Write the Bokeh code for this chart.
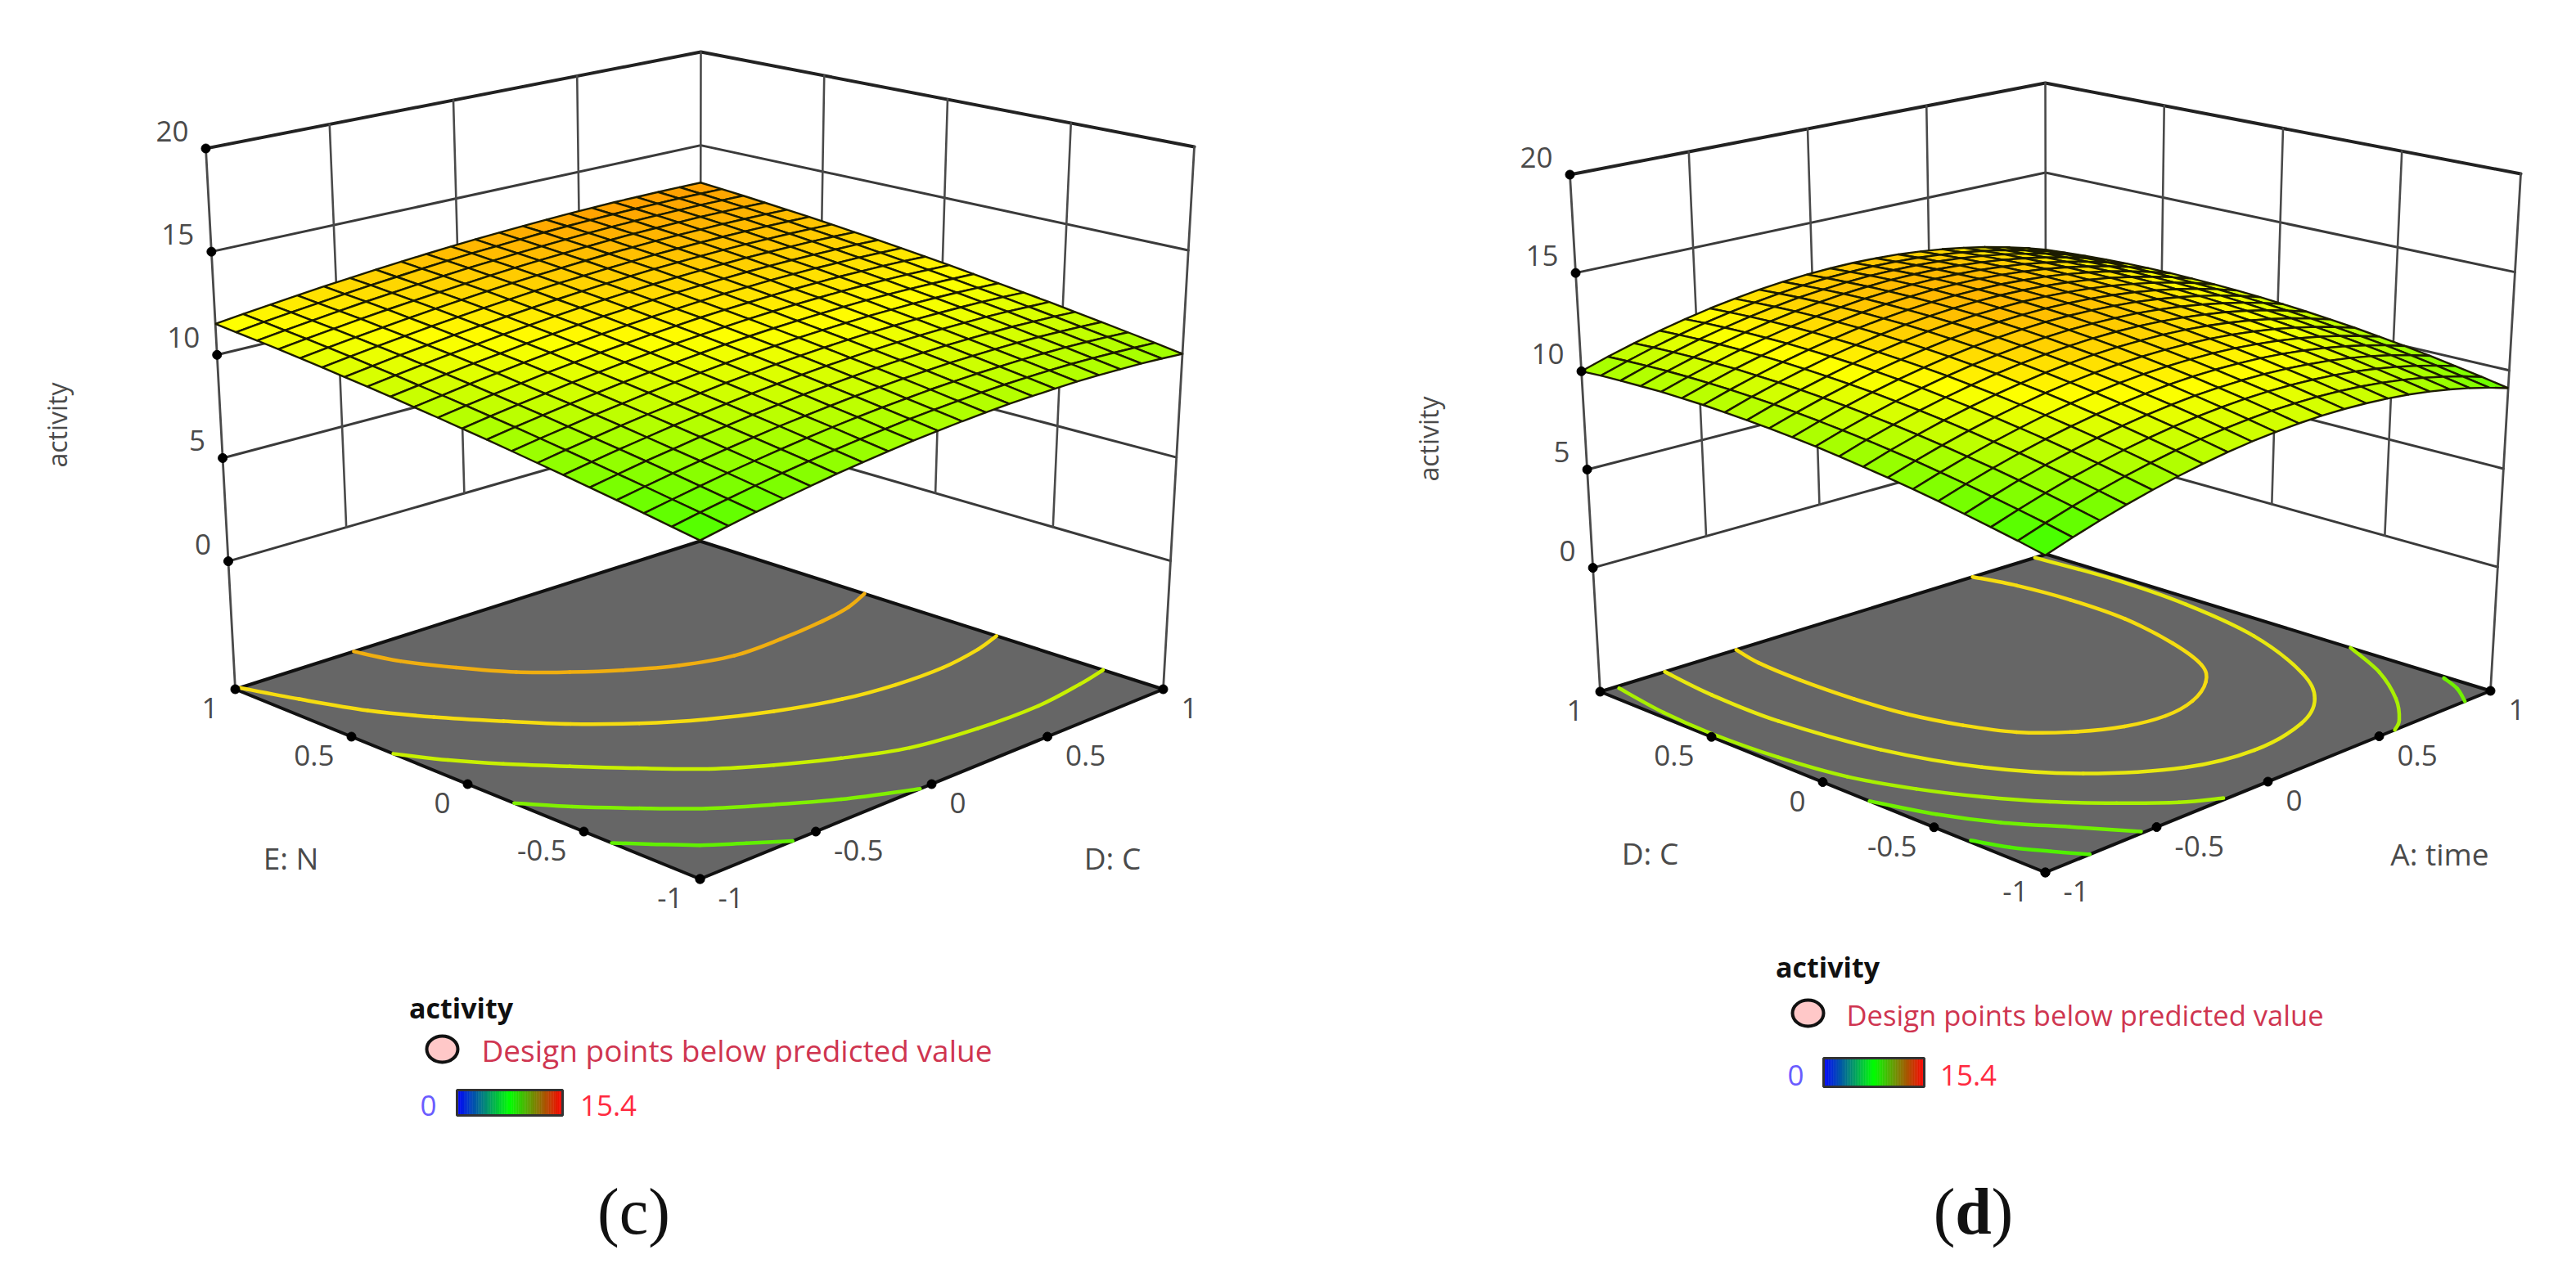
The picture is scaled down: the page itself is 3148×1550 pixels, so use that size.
import numpy as np
from bokeh.plotting import figure
from bokeh.core.properties import value
from bokeh.embed import file_html
from bokeh.resources import INLINE

Z_TICKS = [0, 5, 10, 15, 20]
XY_TICKS = [-1, -0.5, 0, 0.5, 1]
XY_LABELS = ["-1", "-0.5", "0", "0.5", "1"]

# activity; rows: E: N from -1 to 1 by 0.1, columns: D: C from -1 to 1 by 0.1
SURF_C = [
 [8.80,9.02,9.23,9.41,9.58,9.74,9.87,9.99,10.10,10.18,10.25,10.30,10.34,10.35,10.35,10.34,10.30,10.25,10.19,10.10,10.00],
 [8.99,9.21,9.41,9.60,9.77,9.92,10.05,10.17,10.27,10.36,10.43,10.48,10.52,10.54,10.54,10.53,10.50,10.45,10.38,10.30,10.21],
 [9.18,9.39,9.59,9.78,9.94,10.09,10.23,10.35,10.45,10.53,10.60,10.66,10.69,10.72,10.72,10.71,10.68,10.64,10.58,10.50,10.41],
 [9.36,9.57,9.77,9.95,10.11,10.26,10.40,10.51,10.61,10.70,10.77,10.83,10.86,10.89,10.89,10.88,10.86,10.82,10.76,10.69,10.60],
 [9.53,9.74,9.94,10.11,10.28,10.42,10.56,10.67,10.78,10.86,10.93,10.99,11.03,11.05,11.06,11.05,11.03,11.00,10.94,10.88,10.79],
 [9.70,9.91,10.10,10.27,10.44,10.58,10.71,10.83,10.93,11.02,11.09,11.14,11.19,11.21,11.22,11.22,11.20,11.17,11.12,11.05,10.98],
 [9.86,10.07,10.25,10.43,10.59,10.73,10.86,10.98,11.08,11.17,11.24,11.30,11.34,11.37,11.38,11.38,11.36,11.33,11.29,11.23,11.15],
 [10.02,10.22,10.40,10.58,10.73,10.88,11.01,11.12,11.22,11.31,11.38,11.44,11.48,11.51,11.53,11.53,11.52,11.49,11.45,11.39,11.32],
 [10.17,10.37,10.55,10.72,10.87,11.02,11.14,11.26,11.36,11.45,11.52,11.58,11.62,11.65,11.67,11.68,11.67,11.64,11.60,11.55,11.49],
 [10.31,10.51,10.69,10.85,11.01,11.15,11.28,11.39,11.49,11.58,11.65,11.71,11.76,11.79,11.81,11.82,11.81,11.79,11.76,11.71,11.65],
 [10.45,10.64,10.82,10.98,11.14,11.27,11.40,11.51,11.61,11.70,11.78,11.84,11.88,11.92,11.94,11.95,11.95,11.93,11.90,11.86,11.80],
 [10.58,10.77,10.95,11.11,11.26,11.40,11.52,11.63,11.73,11.82,11.89,11.96,12.01,12.04,12.07,12.08,12.08,12.06,12.04,12.00,11.95],
 [10.71,10.89,11.07,11.23,11.37,11.51,11.63,11.75,11.85,11.93,12.01,12.07,12.12,12.16,12.19,12.20,12.20,12.19,12.17,12.14,12.09],
 [10.83,11.01,11.18,11.34,11.48,11.62,11.74,11.85,11.95,12.04,12.12,12.18,12.23,12.27,12.30,12.32,12.32,12.31,12.30,12.27,12.22],
 [10.94,11.12,11.29,11.44,11.59,11.72,11.84,11.95,12.05,12.14,12.22,12.28,12.34,12.38,12.41,12.43,12.44,12.43,12.42,12.39,12.35],
 [11.05,11.23,11.39,11.54,11.69,11.82,11.94,12.05,12.15,12.24,12.31,12.38,12.43,12.48,12.51,12.53,12.54,12.54,12.53,12.51,12.48],
 [11.15,11.33,11.49,11.64,11.78,11.91,12.03,12.14,12.24,12.33,12.40,12.47,12.53,12.57,12.61,12.63,12.64,12.65,12.64,12.62,12.59],
 [11.25,11.42,11.58,11.73,11.87,11.99,12.11,12.22,12.32,12.41,12.49,12.55,12.61,12.66,12.70,12.72,12.74,12.75,12.74,12.73,12.70],
 [11.34,11.50,11.66,11.81,11.95,12.07,12.19,12.30,12.40,12.48,12.56,12.63,12.69,12.74,12.78,12.81,12.83,12.84,12.84,12.83,12.81],
 [11.42,11.59,11.74,11.88,12.02,12.15,12.26,12.37,12.47,12.56,12.63,12.70,12.77,12.82,12.86,12.89,12.91,12.92,12.93,12.92,12.91],
 [11.50,11.66,11.81,11.95,12.09,12.21,12.33,12.43,12.53,12.62,12.70,12.77,12.83,12.88,12.93,12.96,12.99,13.00,13.01,13.01,13.00],
]
# activity; rows: D: C from -1 to 1 by 0.1, columns: A: time from -1 to 1 by 0.1
SURF_D = [
 [8.50,8.91,9.28,9.61,9.90,10.15,10.36,10.53,10.66,10.75,10.80,10.81,10.78,10.71,10.60,10.45,10.26,10.03,9.76,9.45,9.10],
 [8.75,9.16,9.53,9.86,10.15,10.40,10.61,10.78,10.91,11.00,11.05,11.06,11.03,10.96,10.85,10.70,10.51,10.28,10.01,9.70,9.35],
 [8.97,9.38,9.76,10.09,10.38,10.63,10.84,11.01,11.14,11.23,11.28,11.29,11.26,11.19,11.08,10.93,10.74,10.51,10.24,9.93,9.58],
 [9.18,9.59,9.97,10.30,10.59,10.84,11.05,11.22,11.35,11.44,11.49,11.50,11.47,11.40,11.29,11.15,10.96,10.73,10.46,10.15,9.80],
 [9.38,9.79,10.16,10.49,10.78,11.03,11.24,11.41,11.54,11.64,11.69,11.70,11.67,11.60,11.49,11.34,11.15,10.92,10.65,10.35,10.00],
 [9.55,9.96,10.33,10.66,10.95,11.21,11.42,11.59,11.72,11.81,11.86,11.87,11.85,11.78,11.67,11.52,11.33,11.10,10.83,10.52,10.18],
 [9.71,10.12,10.49,10.82,11.11,11.36,11.58,11.75,11.88,11.97,12.02,12.03,12.00,11.94,11.83,11.68,11.49,11.26,10.99,10.68,10.34],
 [9.84,10.26,10.63,10.96,11.25,11.50,11.71,11.89,12.02,12.11,12.16,12.17,12.15,12.08,11.97,11.82,11.63,11.40,11.14,10.83,10.48],
 [9.96,10.38,10.75,11.08,11.37,11.62,11.84,12.01,12.14,12.23,12.28,12.30,12.27,12.20,12.09,11.94,11.76,11.53,11.26,10.95,10.60],
 [10.07,10.48,10.85,11.18,11.48,11.73,11.94,12.11,12.24,12.34,12.39,12.40,12.37,12.31,12.20,12.05,11.86,11.63,11.37,11.06,10.71],
 [10.15,10.56,10.94,11.27,11.56,11.81,12.03,12.20,12.33,12.42,12.48,12.49,12.46,12.39,12.29,12.14,11.95,11.72,11.46,11.15,10.80],
 [10.22,10.63,11.00,11.33,11.63,11.88,12.09,12.27,12.40,12.49,12.54,12.56,12.53,12.46,12.35,12.21,12.02,11.79,11.53,11.22,10.87],
 [10.26,10.68,11.05,11.38,11.68,11.93,12.14,12.32,12.45,12.54,12.59,12.61,12.58,12.51,12.41,12.26,12.07,11.85,11.58,11.27,10.92],
 [10.29,10.71,11.08,11.41,11.71,11.96,12.17,12.35,12.48,12.57,12.63,12.64,12.61,12.55,12.44,12.29,12.11,11.88,11.61,11.31,10.96],
 [10.31,10.72,11.09,11.43,11.72,11.97,12.19,12.36,12.49,12.59,12.64,12.65,12.63,12.56,12.46,12.31,12.12,11.90,11.63,11.32,10.98],
 [10.30,10.71,11.09,11.42,11.72,11.97,12.18,12.36,12.49,12.58,12.64,12.65,12.63,12.56,12.45,12.31,12.12,11.89,11.63,11.32,10.98],
 [10.28,10.69,11.06,11.40,11.69,11.95,12.16,12.33,12.47,12.56,12.62,12.63,12.60,12.54,12.43,12.29,12.10,11.87,11.61,11.30,10.96],
 [10.23,10.65,11.02,11.36,11.65,11.91,12.12,12.29,12.43,12.52,12.58,12.59,12.57,12.50,12.39,12.25,12.06,11.84,11.57,11.26,10.92],
 [10.17,10.59,10.96,11.30,11.59,11.85,12.06,12.24,12.37,12.46,12.52,12.53,12.51,12.44,12.34,12.19,12.01,11.78,11.52,11.21,10.86],
 [10.10,10.51,10.89,11.22,11.52,11.77,11.98,12.16,12.29,12.39,12.44,12.46,12.43,12.37,12.26,12.12,11.93,11.71,11.44,11.14,10.79],
 [10.00,10.42,10.79,11.13,11.42,11.68,11.89,12.07,12.20,12.30,12.35,12.37,12.34,12.28,12.17,12.03,11.84,11.62,11.35,11.05,10.70],
]

# contour lines on the floor: (colour, [(x factor, y factor), ...])
CONT_C = [
 ("#f0ae10", [(-.49,1),(-.44,.85),(-.35,.70),(-.24,.55),(-.12,.44),(.01,.34),(.16,.25),(.34,.19),(.54,.19),(.74,.21),(.88,.24),(1,.29)]),
 ("#f5dc10", [(-.98,1),(-.905,.82),(-.81,.62),(-.695,.45),(-.56,.285),(-.425,.13),(-.27,-.01),(-.10,-.13),(.09,-.23),(.305,-.31),(.50,-.345),(.70,-.35),(.88,-.32),(1,-.28)]),
 ("#c8f000", [(-1,.32),(-.91,.175),(-.805,.04),(-.67,-.11),(-.53,-.265),(-.38,-.42),(-.22,-.54),(-.04,-.65),(.16,-.745),(.41,-.79),(.66,-.80),(.87,-.77),(1,-.74)]),
 ("#80f000", [(-1,-.20),(-.89,-.34),(-.75,-.49),(-.605,-.635),(-.44,-.76),(-.27,-.88),(-.05,-1)]),
 ("#60f000", [(-1,-.62),(-.92,-.71),(-.82,-.82),(-.71,-.91),(-.60,-1)]),
]
CONT_D = [
 ("#f5dc10", [(.67,1),(.71,.84),(.73,.62),(.72,.365),(.66,.09),(.58,-.12),(.48,-.24),(.33,-.33),(.18,-.36),(.025,-.33),(-.13,-.24),(-.25,-.12),(-.33,.04),(-.39,.23),(-.42,.44),(-.43,.675),(-.42,.87),(-.39,1)]),
 ("#e8e810", [(.95,1),(.97,.67),(.95,.32),(.88,-.055),(.74,-.41),(.60,-.61),(.42,-.73),(.16,-.78),(-.09,-.72),(-.35,-.52),(-.54,-.255),(-.67,.07),(-.74,.46),(-.74,.76),(-.71,1)]),
 ("#a8f000", [(-.93,.985),(-.97,.745),(-.98,.52),(-.96,.24),(-.91,-.02),(-.82,-.24),(-.715,-.43),(-.59,-.61),(-.45,-.77),(-.31,-.91),(-.19,-.99)]),
 ("#a8f000", [(1,-.37),(.90,-.60),(.765,-.81),(.64,-.95),(.57,-1)]),
 ("#70f000", [(-1,-.21),(-.92,-.43),(-.82,-.62),(-.69,-.80),(-.56,-.99)]),
 ("#70f000", [(.99,-.80),(.95,-.90),(.885,-1)]),
 ("#50f000", [(-.99,-.655),(-.94,-.78),(-.87,-.895),(-.80,-1)]),
]

p = figure(width=3132, height=1534, x_range=(0, 3132), y_range=(1534, 0),
           output_backend="svg", toolbar_location=None, min_border=0)
p.axis.visible = False
p.grid.visible = False
p.outline_line_color = None
p.background_fill_color = "white"

STOPS = np.array([0, 3.85, 7.7, 11.55, 15.4])
R = [0, 0, 0, 255, 255]; G = [0, 255, 255, 255, 0]; B = [255, 255, 0, 0, 0]
def color(z):
    return "#%02x%02x%02x" % (int(np.interp(z, STOPS, R)), int(np.interp(z, STOPS, G)), int(np.interp(z, STOPS, B)))

def panel(cfg, surf, conts):
    zf = cfg["zf"]; span = 20 - zf
    F, Fz = np.array(cfg["F"], float), np.array(cfg["Ft"], float)
    Rr, Rz = np.array(cfg["R"], float), np.array(cfg["Rt"], float)
    L, Lz = np.array(cfg["L"], float), np.array(cfg["Lt"], float)
    Bk, Bz = np.array(cfg["B"], float), np.array(cfg["Bt"], float)
    def bil(s, t, a, b, c, d):
        return (1-s)*(1-t)*a + s*(1-t)*b + s*t*c + (1-s)*t*d
    def box(u, v, z):
        s, t = (u+1)/2, (v+1)/2
        f = bil(s, t, F, Rr, Bk, L); top = bil(s, t, Fz, Rz, Bz, Lz)
        return f + (top-f)*(z-zf)/span
    z0 = 10.0
    quad = [box(-1,-1,z0), box(1,-1,z0), box(1,1,z0), box(-1,1,z0)]
    sq = [(0,0),(1,0),(1,1),(0,1)]
    A = []; b = []
    for (s,t),(x,y) in zip(sq, quad):
        A.append([s,t,1,0,0,0,-s*x,-t*x]); b.append(x)
        A.append([0,0,0,s,t,1,-s*y,-t*y]); b.append(y)
    h = np.linalg.solve(np.array(A), np.array(b))
    vF, vR, vB, vL = (Fz-F)/span, (Rz-Rr)/span, (Bz-Bk)/span, (Lz-L)/span
    def surfpt(i, j, z):
        s, t = j/20, i/20
        w = h[6]*s+h[7]*t+1
        pt = np.array([(h[0]*s+h[1]*t+h[2])/w, (h[3]*s+h[4]*t+h[5])/w])
        return pt + (z-z0)*bil(s, t, vF, vR, vB, vL)
    def seg(pts, w, c):
        p.line([q[0] for q in pts], [q[1] for q in pts], line_width=w, line_color=c, line_cap="round")
    for z in Z_TICKS:
        w = 4 if z == 20 else 3
        c = "#222222" if z == 20 else "#3a3a3a"
        seg([box(-1,1,z), box(1,1,z), box(1,-1,z)], w, c)
    for t in XY_TICKS[1:-1]:
        seg([box(t,1,0), box(t,1,20)], 2.6, "#4a4a4a")
        seg([box(1,t,0), box(1,t,20)], 2.6, "#4a4a4a")
    seg([box(1,1,0), box(1,1,20)], 2.6, "#4a4a4a")
    seg([box(-1,1,zf), box(-1,1,20)], 2.8, "#4a4a4a")
    seg([box(1,-1,zf), box(1,-1,20)], 2.8, "#4a4a4a")
    corners = [box(-1,-1,zf), box(1,-1,zf), box(1,1,zf), box(-1,1,zf)]
    p.patch([q[0] for q in corners], [q[1] for q in corners], fill_color="#666666",
            line_color="#111111", line_width=4)
    for col, pts in conts:
        P = [box(a[0], a[1], zf) for a in pts]
        P = [P[0]] + P + [P[-1]]
        x0,y0,x1,y1,cx0,cy0,cx1,cy1 = [],[],[],[],[],[],[],[]
        for k in range(1, len(P)-2):
            c0 = P[k] + (P[k+1]-P[k-1])/6
            c1 = P[k+1] - (P[k+2]-P[k])/6
            x0.append(P[k][0]); y0.append(P[k][1]); x1.append(P[k+1][0]); y1.append(P[k+1][1])
            cx0.append(c0[0]); cy0.append(c0[1]); cx1.append(c1[0]); cy1.append(c1[1])
        p.bezier(x0=x0, y0=y0, x1=x1, y1=y1, cx0=cx0, cy0=cy0, cx1=cx1, cy1=cy1,
                 line_color=col, line_width=4.5, line_cap="round")
    xs, ys, fc = [], [], []
    order = sorted([(i,j) for i in range(20) for j in range(20)], key=lambda ij: -(ij[0]+ij[1]))
    for i, j in order:
        zz = [surf[i][j], surf[i][j+1], surf[i+1][j+1], surf[i+1][j]]
        q = [surfpt(i,j,zz[0]), surfpt(i,j+1,zz[1]), surfpt(i+1,j+1,zz[2]), surfpt(i+1,j,zz[3])]
        xs.append([a[0] for a in q]); ys.append([a[1] for a in q]); fc.append(color(np.mean(zz)))
    p.patches(xs, ys, fill_color=fc, line_color="#1c1c00", line_width=2.4)
    dots = [box(-1,1,z) for z in Z_TICKS]
    dots += [box(-1,t,zf) for t in XY_TICKS] + [box(t,-1,zf) for t in XY_TICKS]
    p.scatter([d[0] for d in dots], [d[1] for d in dots], size=11, color="black")
    FONT = value("Open Sans")
    def txt(x, y, s, size, col="#4a4a4a", align="center", font=FONT, style="normal", angle=0):
        p.text([x], [y], text=[s], text_font=font, text_font_size=f"{size}px", text_color=col,
               text_align=align, text_baseline="middle", text_font_style=style, angle=angle)
    for z in Z_TICKS:
        q = box(-1,1,z)
        txt(q[0]-21, q[1]-21, str(z), 35, align="right")
    for t, lab in zip(XY_TICKS, XY_LABELS):
        q = box(-1,t,zf); txt(q[0]-21, q[1]+23, lab, 35, align="right")
        q = box(t,-1,zf); txt(q[0]+22, q[1]+23, lab, 35, align="left")
    txt(*cfg["ztitle"], "activity", 32, angle=np.pi/2)
    txt(*cfg["ll"], cfg["lname"], 37)
    txt(*cfg["rl"], cfg["rname"], 37)
    txt(*cfg["lt"], "activity", 34, col="#111111", style="bold")
    ex, ey = cfg["el"]
    p.ellipse([ex], [ey], width=38, height=32, fill_color="#ffc8c8", line_color="#111111", line_width=4)
    txt(cfg["lx"], cfg["ly"], "Design points below predicted value", cfg["ls2"], col="#cf3550", align="left")
    bx0, bx1, by0, by1 = cfg["bar"]
    vals = np.linspace(0, 15.4, 61)
    ed = bx0 + vals/15.4*(bx1-bx0)
    mid = (vals[:-1]+vals[1:])/2
    cols = ["#%02x%02x%02x" % (int(np.interp(m,[0,7.7,15.4],[0,0,255])), int(np.interp(m,[0,7.7,15.4],[0,255,0])), int(np.interp(m,[0,7.7,15.4],[255,0,0]))) for m in mid]
    p.quad(left=ed[:-1], right=ed[1:], top=by0, bottom=by1, fill_color=cols, line_color=cols, line_width=0.5)
    p.quad(left=[bx0], right=[bx1], top=[by0], bottom=[by1], fill_alpha=0, line_color="#333333", line_width=3)
    txt(*cfg["l0"], "0", 35, col="#6a5cff")
    txt(*cfg["l1"], "15.4", 35, col="#ff2a40")

CFG_C = dict(zf=-6.2, F=(855,1074), R=(1421,842), L=(287,842), B=(855,661),
             Ft=(855,351), Rt=(1459,179), Lt=(251,181), Bt=(856,63),
             ztitle=(69,519), ll=(355,1048), rl=(1359,1048), lname="E: N", rname="D: C",
             lt=(563,1231), el=(540,1282), lx=588, ly=1283, ls2=37,
             bar=(558,687,1332,1363), l0=(523,1351), l1=(743,1351))
CFG_D = dict(zf=-6.3, F=(2499,1066), R=(3043,844), L=(1955,845), B=(2500,677),
             Ft=(2499,377), Rt=(3080,212), Lt=(1918,213), Bt=(2499,101),
             ztitle=(1745,536), ll=(2016,1042), rl=(2981,1043), lname="D: C", rname="A: time",
             lt=(2233,1181), el=(2209,1238), lx=2256, ly=1240, ls2=34.6,
             bar=(2228,2351,1293,1328), l0=(2194,1314), l1=(2405,1314))
panel(CFG_C, SURF_C, CONT_C)
panel(CFG_D, SURF_D, CONT_D)

SERIF = value("Liberation Serif")
p.text([774], [1480], text=["(c)"], text_font=SERIF, text_font_size="80px", text_color="#111111", text_align="center", text_baseline="middle")
p.text([2411], [1480], text=["("], text_font=SERIF, text_font_size="80px", text_color="#111111", text_align="right", text_baseline="middle", x_offset=-22)
p.text([2411], [1480], text=["d"], text_font=SERIF, text_font_size="80px", text_font_style="bold", text_color="#111111", text_align="center", text_baseline="middle")
p.text([2411], [1480], text=[")"], text_font=SERIF, text_font_size="80px", text_color="#111111", text_align="left", text_baseline="middle", x_offset=22)

open("out.html", "w").write(file_html(p, INLINE))
